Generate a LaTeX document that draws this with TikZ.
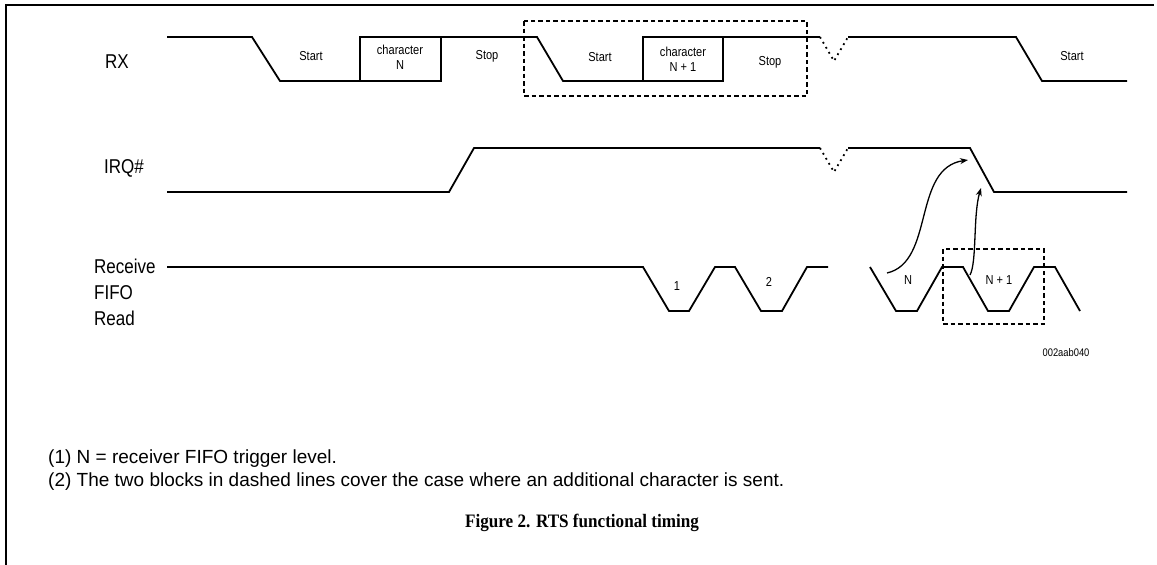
\documentclass[tikz,border=0pt]{standalone}
\usepackage{fontspec}
\setmainfont{Liberation Sans}[FakeStretch=0.85]
\newfontfamily\notefont{Liberation Sans}
\newfontfamily\capfont{Liberation Serif}[FakeStretch=0.9]
\usetikzlibrary{arrows.meta}

\begin{document}
\begin{tikzpicture}[x=1pt,y=-1pt,
  sig/.style={line width=1.8pt, line join=miter},
  ghost/.style={line width=1.8pt, dash pattern=on 1.8pt off 4pt},
  grp/.style={line width=1.8pt, dash pattern=on 4.5pt off 3pt},
  lbl/.style={font=\fontsize{20}{26}\selectfont, align=left, inner sep=0pt},
  tag/.style={font=\fontsize{13}{15}\selectfont, align=center, inner sep=0pt},
  note/.style={font=\notefont\fontsize{19}{23}\selectfont, anchor=west, inner sep=0pt},
  cause/.style={line width=1.3pt, -{Stealth[length=8pt,width=6pt]}},
]
\useasboundingbox (0,0) rectangle (1157,565);
% frame
\draw[line width=1.8pt] (6,565) -- (6,5) -- (1154,5);
% signal names
\node[lbl, anchor=west] (rx) at (105,62) {RX};
\node[lbl, anchor=west] (irq) at (104,168) {IRQ\#};
\node[lbl, anchor=north west] (rd) at (94,259) {Receive\\FIFO\\Read};
% RX line
\draw[sig] (167,37) -- (252,37) -- (280,81) -- (441,81) -- (441,37);
\draw[sig] (360,81) -- (360,37) -- (537,37) -- (563,81) -- (723,81) -- (723,37);
\draw[sig] (643,81) -- (643,37) -- (820,37);
\draw[ghost] (820,37) -- (834,61) -- (848,37);
\draw[sig] (848,37) -- (1016,37) -- (1042,81) -- (1127,81);
\node[tag] (st1) at (311,56) {Start};
\node[tag] (ch1) at (400,57) {character\\N};
\node[tag] (sp1) at (487,56) {Stop};
\node[tag] (st2) at (600,57) {Start};
\node[tag] (ch2) at (683,59) {character\\N + 1};
\node[tag] (sp2) at (770,62) {Stop};
\node[tag] (st3) at (1072,56) {Start};
\draw[grp] (524,21) rectangle (807,96);
% IRQ# line
\draw[sig] (167,192) -- (449,192) -- (474,148) -- (820,148);
\draw[ghost] (820,148) -- (834,172) -- (848,148);
\draw[sig] (848,148) -- (970,148) -- (994,192) -- (1127,192);
\coordinate (irqa) at (968,160);
\coordinate (irqb) at (981,188);
% receive FIFO read strobes
\draw[sig] (167,267) -- (643,267) -- (669,311) -- (689,311) -- (715,267) -- (735,267)
  -- (761,311) -- (782,311) -- (807,267) -- (828,267);
\draw[sig] (870,267) -- (896,311) -- (917,311) -- (942,267) -- (963,267) -- (988,311)
  -- (1009,311) -- (1034,267) -- (1055,267) -- (1080,311);
\node[tag] (r1) at (677,286) {1};
\node[tag] (r2) at (769,282) {2};
\node[tag] (rn) at (908,280) {N};
\node[tag] (rn1) at (999,280) {N + 1};
\draw[grp] (943,249) rectangle (1044,324);
\coordinate (rda) at (887,273);
\coordinate (rdb) at (970,275);
% read N / N+1 -> IRQ# release
\draw[cause] (rda) .. controls (935,262) and (912,168) .. (irqa);
\draw[cause] (rdb) .. controls (977,262) and (973,215) .. (irqb);
\node[font=\fontsize{11}{13}\selectfont, inner sep=0pt] (code) at (1066,353) {002aab040};
% notes and caption
\node[note] (n1) at (48,459) {(1) N = receiver FIFO trigger level.};
\node[note] (n2) at (48,482) {(2) The two blocks in dashed lines cover the case where an additional character is sent.};
\node[font=\capfont\bfseries\fontsize{19}{22}\selectfont, inner sep=0pt] (cap) at (582,523) {Figure 2. RTS functional timing};
\end{tikzpicture}
\end{document}
